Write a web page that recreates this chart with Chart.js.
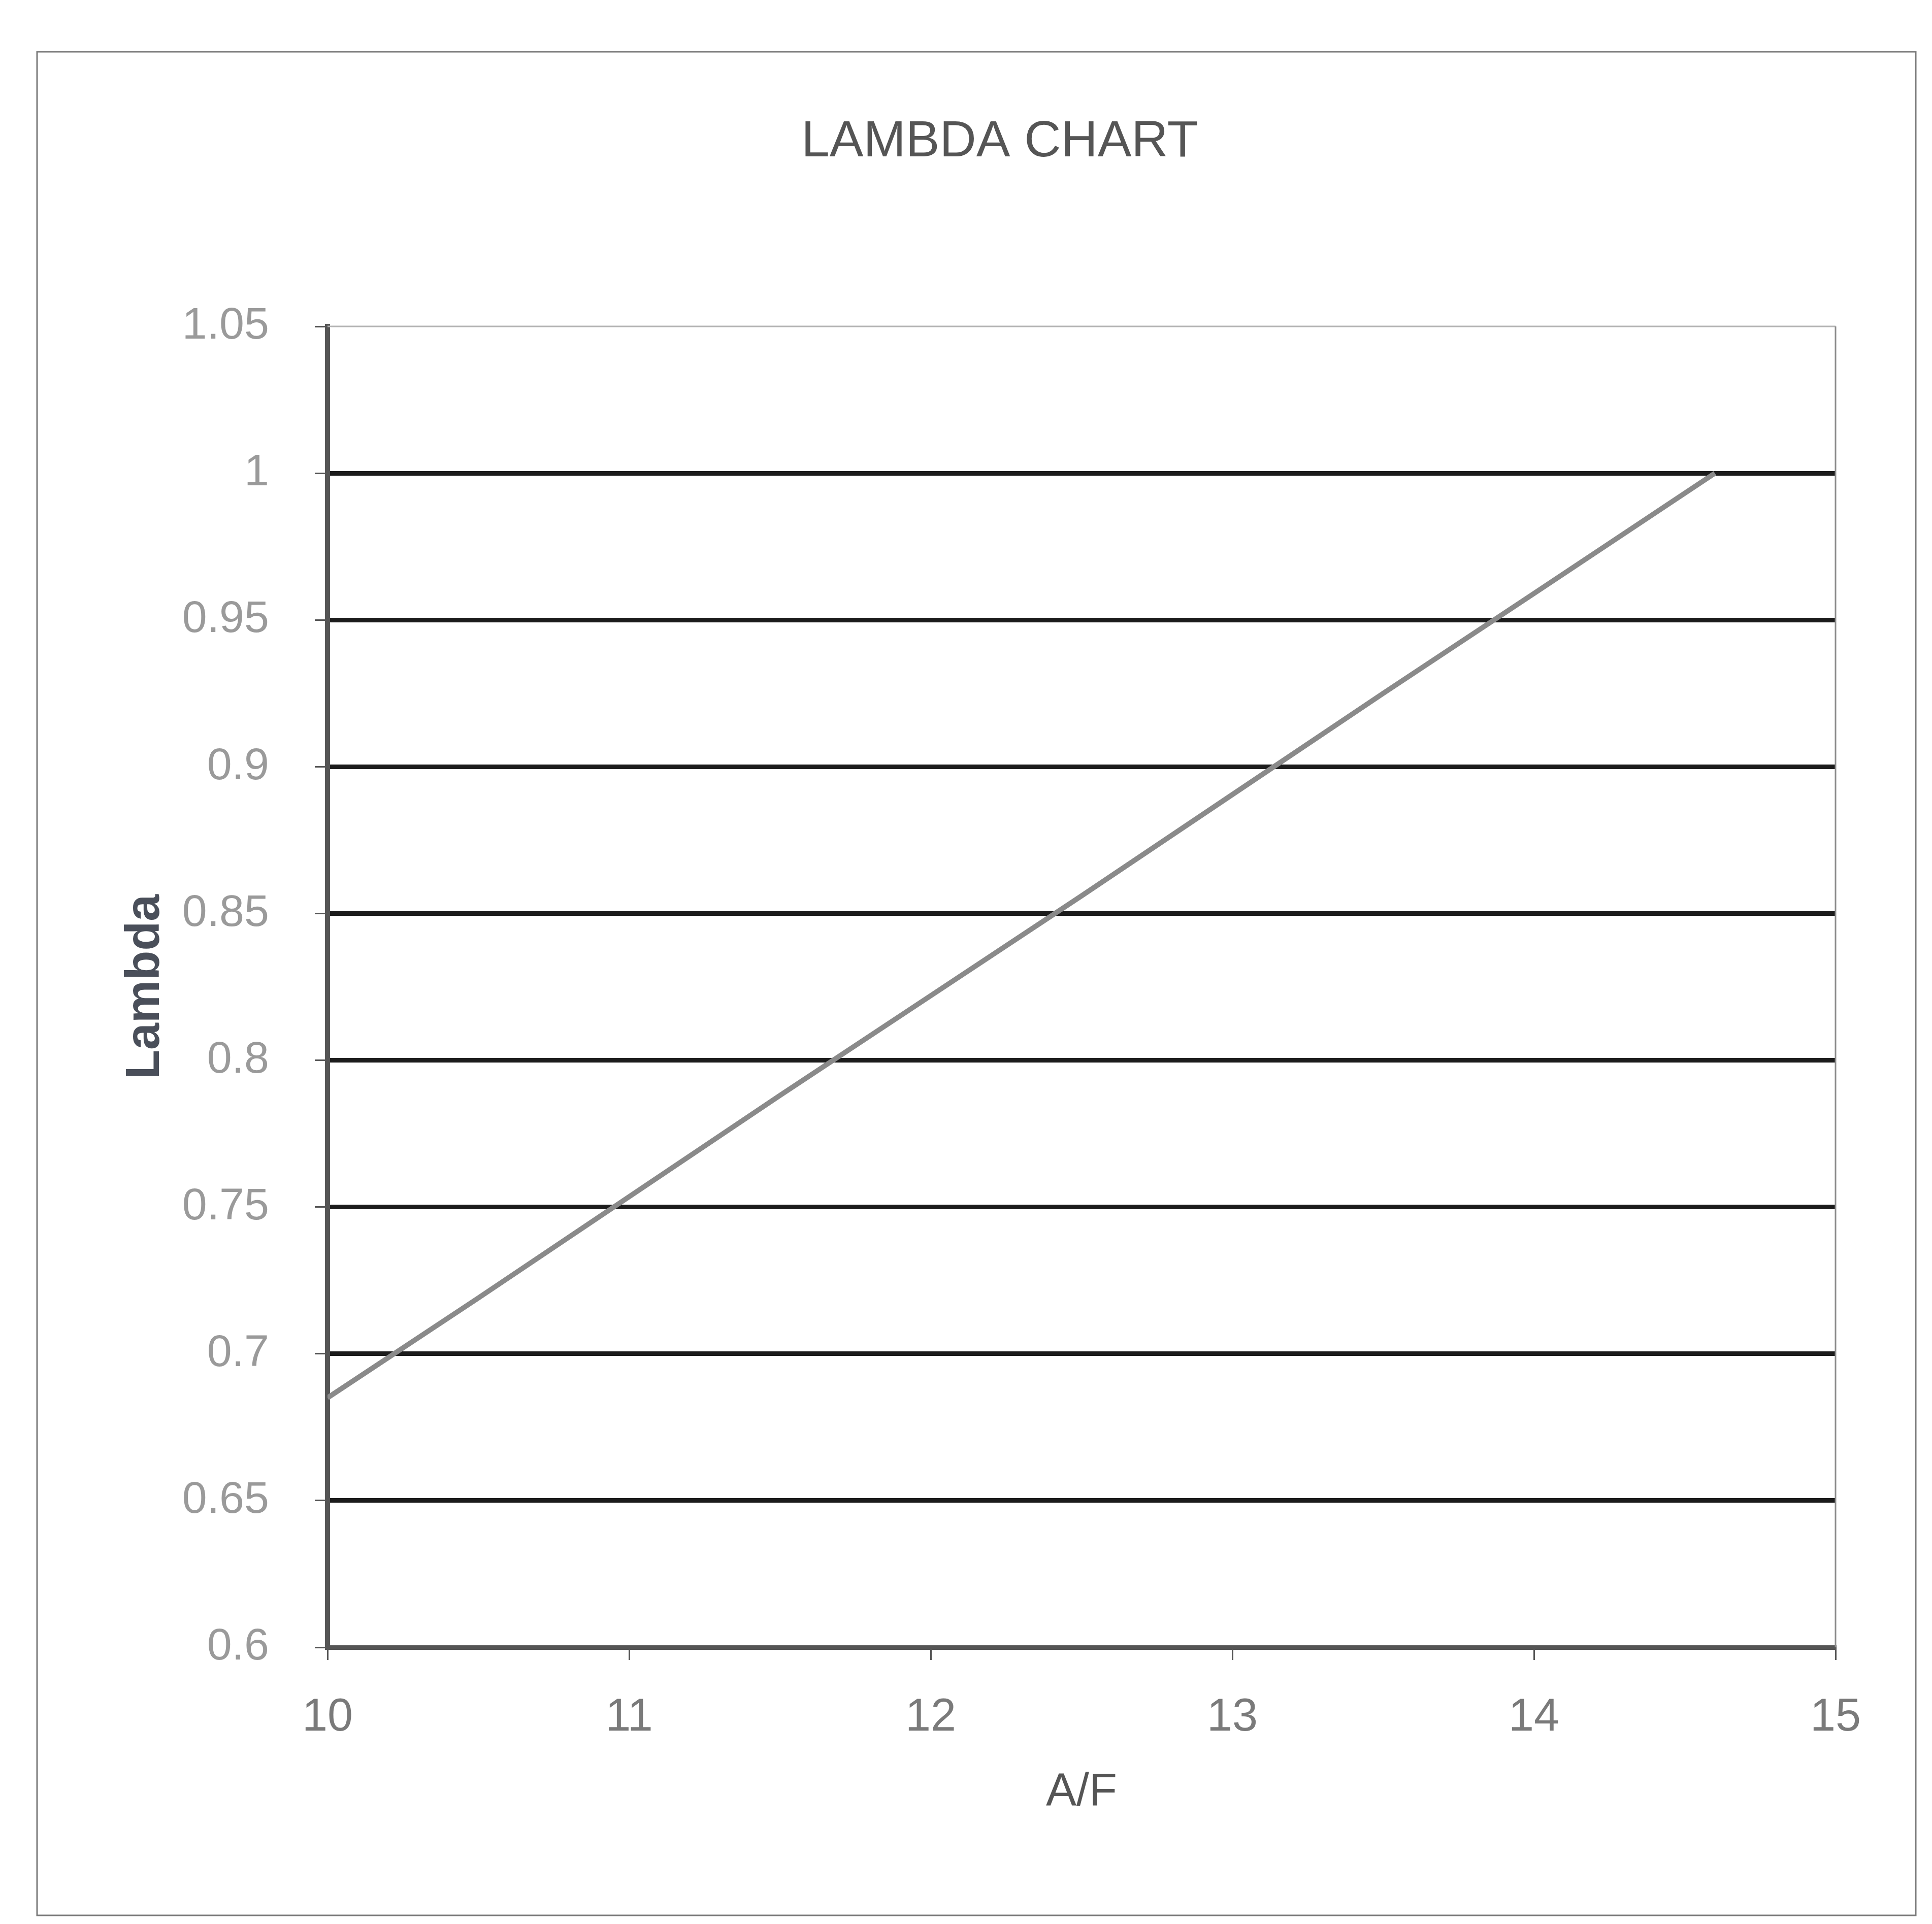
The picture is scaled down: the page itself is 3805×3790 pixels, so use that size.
<!DOCTYPE html>
<html>
<head>
<meta charset="utf-8">
<title>Lambda Chart</title>
<script src="https://cdn.jsdelivr.net/npm/chart.js@4.4.1/dist/chart.umd.min.js"></script>
<style>
    html, body { margin: 0; padding: 0; background: #fff; }
    #wrap { width: 3805px; height: 3790px; }
</style>
</head>
<body>
<div id="wrap"><canvas id="lambda-chart" width="3805" height="3790"></canvas></div>
<script>
// Data
const afValues = [10, 10.5, 11, 11.5, 12, 12.5, 13, 13.5, 14, 14.6];
const lambdaValues = [0.685, 0.719, 0.7535, 0.788, 0.822, 0.856, 0.8905, 0.925, 0.959, 1.0];

const xTickValues = [10, 11, 12, 13, 14, 15];
const yTickValues = [0.6, 0.65, 0.7, 0.75, 0.8, 0.85, 0.9, 0.95, 1, 1.05];
const yTickLabels = ['0.6', '0.65', '0.7', '0.75', '0.8', '0.85', '0.9', '0.95', '1', '1.05'];

// Frame around the plot area and round the whole chart
const framePlugin = {
    id: 'frames',
    beforeDraw(chart) {
        const ctx = chart.ctx;
        ctx.save();
        ctx.strokeStyle = '#7a7a7a';
        ctx.lineWidth = 3;
        ctx.strokeRect(73, 102, 3700, 3671);
        ctx.restore();
    },
    beforeDatasetsDraw(chart) {
        const { ctx, chartArea: a } = chart;
        ctx.save();
        ctx.lineWidth = 3;
        ctx.strokeStyle = '#b4b4b4';
        ctx.beginPath();
        ctx.moveTo(a.left, a.top);
        ctx.lineTo(a.right, a.top);
        ctx.stroke();
        ctx.strokeStyle = '#8c8c8c';
        ctx.beginPath();
        ctx.moveTo(a.right, a.top);
        ctx.lineTo(a.right, a.bottom);
        ctx.stroke();
        ctx.restore();
    }
};

const ctx = document.getElementById('lambda-chart').getContext('2d');

new Chart(ctx, {
    type: 'scatter',
    data: {
        datasets: [{
            data: afValues.map((x, i) => ({ x: x, y: lambdaValues[i] })),
            showLine: true,
            borderColor: '#8a8a8a',
            borderWidth: 10,
            pointRadius: 0,
            tension: 0,
            fill: false
        }]
    },
    options: {
        responsive: false,
        animation: false,
        layout: { padding: { left: 140, right: 7, top: 0, bottom: 0 } },
        plugins: {
            legend: { display: false },
            tooltip: { enabled: false },
            title: {
                display: true,
                text: 'LAMBDA CHART',
                color: '#555555',
                font: { family: 'Liberation Sans, Arial, sans-serif', size: 100, weight: 'normal', lineHeight: 1.2 },
                padding: { top: 220, bottom: 303 }
            }
        },
        scales: {
            x: {
                type: 'linear',
                min: 10,
                max: 15,
                afterBuildTicks: scale => { scale.ticks = xTickValues.map(v => ({ value: v })); },
                afterFit: scale => { scale.height = 545; },
                grid: {
                    drawOnChartArea: false,
                    drawTicks: true,
                    tickLength: 25,
                    tickColor: '#555555',
                    lineWidth: 3
                },
                border: { display: true, color: '#555555', width: 9 },
                ticks: {
                    color: '#7a7a7a',
                    padding: 60,
                    maxRotation: 0,
                    font: { family: 'Liberation Sans, Arial, sans-serif', size: 90, lineHeight: 1.2 },
                    callback: v => String(v)
                },
                title: {
                    display: true,
                    text: 'A/F',
                    color: '#555555',
                    font: { family: 'Liberation Sans, Arial, sans-serif', size: 90, lineHeight: 1.2 },
                    padding: { top: 0, bottom: 205 }
                }
            },
            y: {
                type: 'linear',
                position: 'left',
                min: 0.6,
                max: 1.05,
                afterBuildTicks: scale => { scale.ticks = yTickValues.map(v => ({ value: v })); },
                afterFit: scale => { scale.width = 505; },
                grid: {
                    color: c => (c.tick && c.tick.value > 1.04) ? 'rgba(0,0,0,0)' : '#1c1c1c',
                    lineWidth: 9,
                    drawTicks: true,
                    tickLength: 25,
                    tickColor: '#555555',
                    tickWidth: 3
                },
                border: { display: true, color: '#555555', width: 10 },
                ticks: {
                    color: '#9a9a9a',
                    padding: 90,
                    font: { family: 'Liberation Sans, Arial, sans-serif', size: 88, lineHeight: 1.2 },
                    callback: (v, i) => yTickLabels[i]
                },
                title: {
                    display: true,
                    text: 'Lambda',
                    color: '#4a4f5a',
                    font: { family: 'Liberation Sans, Arial, sans-serif', size: 95, weight: 'bold', lineHeight: 1.2 },
                    padding: { top: 90, bottom: 0 }
                }
            },
            ySpacer: {
                type: 'linear',
                position: 'right',
                afterFit: scale => { scale.width = 183; },
                grid: { display: false, drawTicks: false },
                border: { display: false },
                ticks: { display: false }
            }
        }
    },
    plugins: [framePlugin]
});
</script>
</body>
</html>
